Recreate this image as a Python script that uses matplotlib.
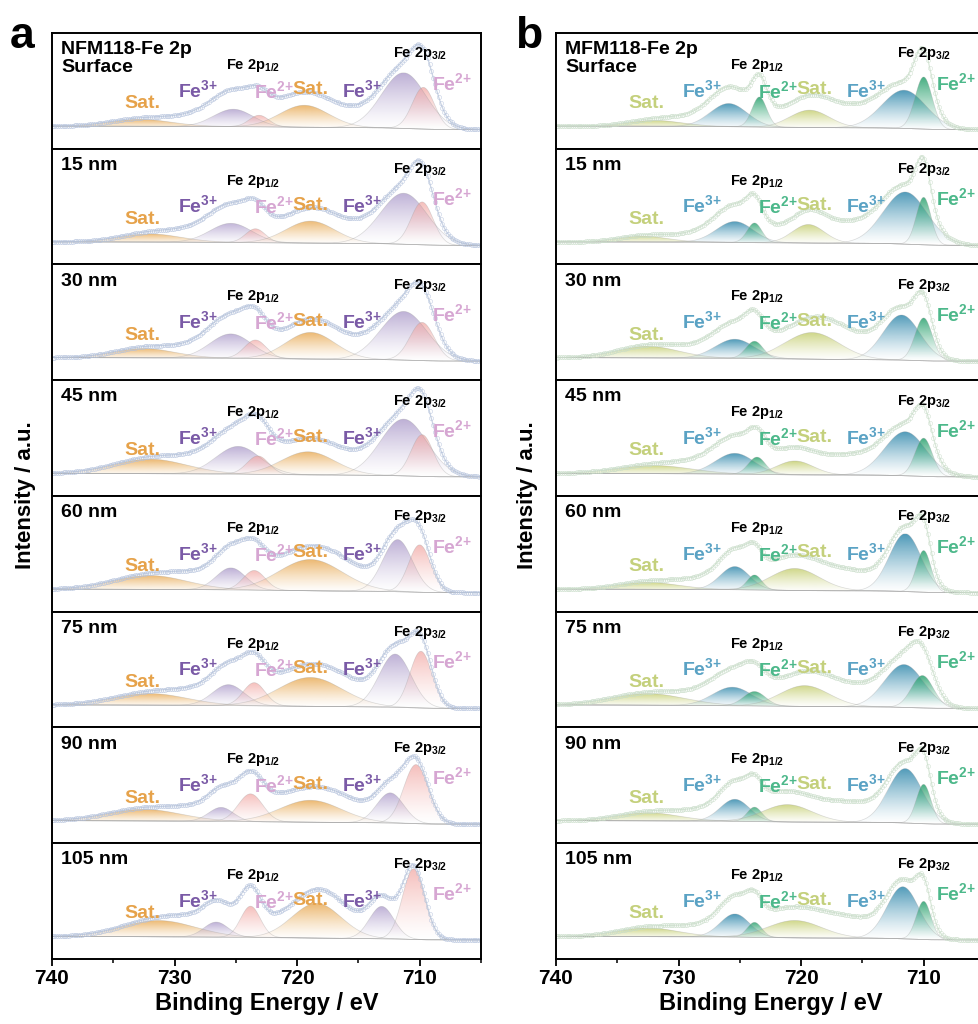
import numpy as np
import matplotlib
matplotlib.use('Agg')
import matplotlib.pyplot as plt
from matplotlib.patches import Polygon
from matplotlib import colors as mcolors

plt.rcParams['font.family'] = ['Liberation Sans', 'DejaVu Sans']
plt.rcParams['font.weight'] = 'bold'
plt.rcParams['axes.labelweight'] = 'bold'
plt.rcParams['mathtext.fontset'] = 'custom'
plt.rcParams['mathtext.bf'] = 'Liberation Sans:bold'
plt.rcParams['mathtext.rm'] = 'Liberation Sans:bold'
plt.rcParams['mathtext.default'] = 'bf'

depths = ['Surface', '15 nm', '30 nm', '45 nm', '60 nm', '75 nm', '90 nm', '105 nm']
# peak order: Sat (2p1/2), Fe3+ 2p1/2, Fe2+ 2p1/2, Sat (2p3/2), Fe3+ 2p3/2, Fe2+ 2p3/2
kinds = ['sat', 'fe3', 'fe2', 'sat', 'fe3', 'fe2']

# NFM118
a_pos = [[732.8, 725.2, 723.1, 719.4, 711.3, 709.7],
         [732.0, 725.4, 723.4, 718.9, 711.3, 709.8],
         [732.5, 725.4, 723.4, 718.9, 711.3, 709.8],
         [732.0, 724.8, 723.2, 719.1, 711.3, 709.8],
         [732.0, 725.4, 723.5, 718.9, 711.8, 710.0],
         [732.0, 725.6, 723.5, 718.9, 712.0, 709.9],
         [732.5, 726.2, 723.8, 718.9, 712.4, 710.3],
         [731.3, 726.6, 723.8, 718.4, 713.1, 710.5]]
a_amp = [[0.06, 0.15, 0.10, 0.19, 0.48, 0.36],
         [0.07, 0.165, 0.12, 0.19, 0.44, 0.37],
         [0.08, 0.21, 0.16, 0.23, 0.42, 0.33],
         [0.125, 0.24, 0.16, 0.20, 0.49, 0.36],
         [0.12, 0.19, 0.17, 0.27, 0.45, 0.41],
         [0.10, 0.18, 0.20, 0.25, 0.46, 0.49],
         [0.10, 0.12, 0.24, 0.19, 0.26, 0.51],
         [0.14, 0.13, 0.27, 0.30, 0.28, 0.61]]
a_wid = [[2.5, 1.6, 0.8, 2.0, 1.8, 0.9],
         [2.5, 1.7, 0.8, 2.0, 1.9, 0.9],
         [2.5, 1.7, 0.9, 2.0, 1.9, 1.0],
         [3.0, 1.8, 0.9, 2.2, 1.9, 0.9],
         [3.0, 1.2, 0.9, 2.6, 1.2, 0.9],
         [3.0, 1.3, 0.9, 2.6, 1.3, 0.9],
         [3.0, 1.0, 1.0, 2.5, 1.1, 1.0],
         [3.0, 1.0, 0.8, 2.0, 1.0, 0.9]]

# MFM118
b_pos = [[731.9, 725.9, 723.4, 719.3, 711.6, 710.0],
         [732.9, 725.4, 723.8, 719.4, 711.5, 710.0],
         [732.5, 725.4, 723.8, 719.1, 711.8, 710.0],
         [732.0, 725.4, 723.6, 720.5, 711.5, 710.0],
         [732.5, 725.4, 723.8, 720.5, 711.5, 710.0],
         [732.5, 725.6, 723.8, 719.7, 711.6, 710.1],
         [732.5, 725.4, 723.8, 721.1, 711.5, 710.0],
         [732.5, 725.4, 723.8, 720.5, 711.7, 710.0]]
b_amp = [[0.05, 0.20, 0.26, 0.15, 0.33, 0.45],
         [0.05, 0.18, 0.17, 0.16, 0.45, 0.41],
         [0.10, 0.165, 0.15, 0.23, 0.39, 0.37],
         [0.07, 0.18, 0.15, 0.12, 0.38, 0.33],
         [0.06, 0.20, 0.13, 0.19, 0.50, 0.36],
         [0.10, 0.16, 0.125, 0.18, 0.37, 0.28],
         [0.07, 0.19, 0.125, 0.15, 0.47, 0.34],
         [0.075, 0.20, 0.13, 0.15, 0.45, 0.33]]
b_wid = [[2.2, 1.5, 0.6, 1.6, 1.8, 0.7],
         [2.0, 1.5, 0.6, 1.3, 1.8, 0.6],
         [2.5, 1.6, 0.7, 2.2, 1.5, 0.7],
         [3.0, 1.6, 0.7, 1.5, 1.7, 0.7],
         [2.5, 1.2, 0.6, 2.0, 1.3, 0.6],
         [3.0, 1.6, 0.9, 2.0, 1.6, 0.9],
         [2.5, 1.2, 0.6, 2.0, 1.4, 0.6],
         [2.5, 1.2, 0.6, 2.2, 1.3, 0.6]]

# extra background under the measured envelope (not drawn as components)
hump_pos = [725.0, 716.0]
hump_wid = [3.5, 3.0]
a_hump = [0.17, 0.13]
b_hump = [0.15, 0.17]

base = 0.165
step = 0.03

a_fill = {'sat': '#e6a040', 'fe3': '#a896c8', 'fe2': '#f2a8a4'}
a_text = {'sat': '#e6a24a', 'fe3': '#7a5aa6', 'fe2': '#d6a6d2'}
b_fill = {'sat': '#c6cf72', 'fe3': '#3088ac', 'fe2': '#26a06c'}
b_text = {'sat': '#c4d07c', 'fe3': '#5aa2c4', 'fe2': '#4cb88a'}

tags = [('Sat.', 732.6, 0.35, 'sat'), ('Fe$^{3{+}}$', 728.1, 0.45, 'fe3'),
        ('Fe$^{2{+}}$', 721.9, 0.44, 'fe2'), ('Sat.', 718.9, 0.47, 'sat'),
        ('Fe$^{3{+}}$', 714.7, 0.45, 'fe3'), ('Fe$^{2{+}}$', 707.4, 0.51, 'fe2')]


def peak(x, c, h, s):
    return h * np.exp(-(x - c) ** 2 / (2 * s ** 2))


def grad_fill(ax, x, lo, hi, color, top_alpha):
    verts = np.vstack([np.column_stack([x, hi]), np.column_stack([x[::-1], lo[::-1]])])
    clip = Polygon(verts, closed=True, facecolor='none', edgecolor='none')
    ax.add_patch(clip)
    img = np.zeros((100, 1, 4))
    img[:, 0, :3] = mcolors.to_rgb(color)
    img[:, 0, 3] = top_alpha * np.linspace(0, 1, 100) ** 1.3
    im = ax.imshow(img, extent=[705, 740, lo.min(), hi.max()], origin='lower',
                   aspect='auto', interpolation='bilinear')
    im.set_clip_path(clip)


fig = plt.figure(figsize=(9.79, 10.24), dpi=100)
h_ax = 0.11304
w_ax = 0.4382


def draw_panel(left, pos, amp, wid, hump, fills, tcols, env_col, pt_col, name, top_alpha):
    for i in range(8):
        ax = fig.add_axes([left, 0.0635 + (7 - i) * h_ax, w_ax, h_ax])
        x = np.linspace(705, 740, 701)
        comps = [peak(x, c, h, s) for c, h, s in zip(pos[i], amp[i], wid[i])]
        total = np.sum(comps, axis=0)
        cum = np.cumsum(total)
        bg = base + step * cum / cum[-1]
        for k, g in zip(kinds, comps):
            grad_fill(ax, x, bg, bg + g, fills[k], top_alpha)
            ax.plot(x, bg + g, color='#9a9a9a', lw=0.5, alpha=0.35)
        extra = sum(peak(x, c, h, s) for c, h, s in zip(hump_pos, hump, hump_wid))
        env = bg + total + extra
        ax.plot(x, env, color=env_col, lw=0.9, alpha=0.8)
        ax.plot(x[::3], env[::3], 'o', mfc='none', mec=pt_col, ms=3.0, mew=0.45, alpha=0.7)

        for s, ex, ey, k in tags:
            ax.text(ex, ey, s, transform=ax.get_xaxis_transform(), ha='center',
                    va='baseline', fontsize=14, color=tcols[k])
        ax.text(723.6, 0.69, 'Fe 2p$_{1/2}$', transform=ax.get_xaxis_transform(),
                ha='center', va='baseline', fontsize=10.5, color='black')
        ax.text(710.0, 0.79, 'Fe 2p$_{3/2}$', transform=ax.get_xaxis_transform(),
                ha='center', va='baseline', fontsize=10.5, color='black')
        lab = name + '\nSurface' if i == 0 else depths[i]
        ax.text(0.022, 0.93, lab, transform=ax.transAxes, ha='left', va='top',
                fontsize=14, linespacing=1.1)

        ax.set_xlim(740, 705)
        ax.set_ylim(0, 1)
        ax.set_yticks([])
        for sp in ax.spines.values():
            sp.set_linewidth(1.4)
        if i < 7:
            ax.tick_params(axis='x', bottom=False, labelbottom=False)
        else:
            ax.set_xticks([740, 730, 720, 710])
            ax.set_xticklabels(['740', '730', '720', '710'], fontweight='bold')
            ax.set_xticks([735, 725, 715, 705], minor=True)
            ax.tick_params(axis='x', which='major', direction='out', length=5,
                           width=1.3, labelsize=15, pad=2)
            ax.tick_params(axis='x', which='minor', direction='out', length=3, width=1.1)
            ax.set_xlabel('Binding Energy / eV', fontsize=17, fontweight='bold', labelpad=3)


draw_panel(0.0531, a_pos, a_amp, a_wid, a_hump, a_fill, a_text, '#bcc8dc', '#b4c2dc',
           'NFM118-Fe 2p', 0.75)
draw_panel(0.5679, b_pos, b_amp, b_wid, b_hump, b_fill, b_text, '#d0e2d0', '#c8dcc8',
           'MFM118-Fe 2p', 0.85)

fig.text(0.026, 0.516, 'Intensity / a.u.', rotation=90, ha='center', va='center',
         fontsize=16, fontweight='bold')
fig.text(0.539, 0.516, 'Intensity / a.u.', rotation=90, ha='center', va='center',
         fontsize=16, fontweight='bold')
fig.text(0.010, 0.953, 'a', fontsize=32, fontweight='bold', ha='left', va='baseline')
fig.text(0.526, 0.953, 'b', fontsize=32, fontweight='bold', ha='left', va='baseline')

fig.savefig('out.png', dpi=100)
